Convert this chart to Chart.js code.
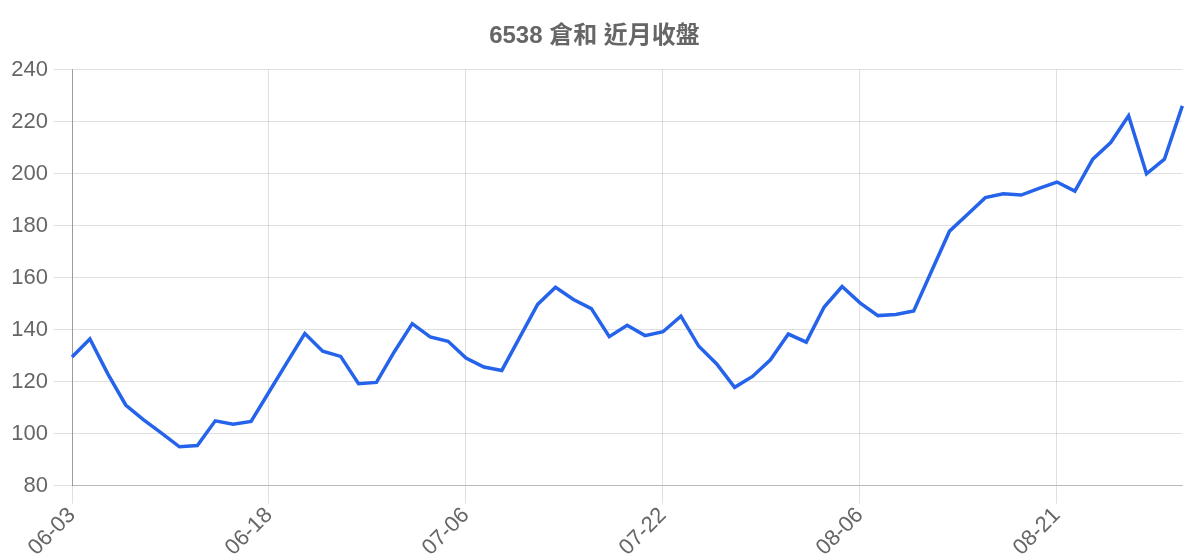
<!DOCTYPE html>
<html>
<head>
<meta charset="utf-8">
<script src="https://cdn.jsdelivr.net/npm/chart.js@4.4.1/dist/chart.umd.min.js"></script>
<style>
  html, body { margin: 0; padding: 0; background: #fff; }
  #wrap { width: 1200px; height: 560px; }
</style>
</head>
<body>
<div id="wrap"><canvas id="chart" width="1200" height="560"></canvas></div>
<script>
// Chart data
const titleText = "6538 倉和 近月收盤";

const dates = [
    "06-03", "06-04", "06-05", "06-06", "06-09", "06-10", "06-11", "06-12", "06-13", "06-16", "06-17",
    "06-18", "06-19", "06-20", "06-23", "06-24", "06-25", "06-26", "06-27", "06-30", "07-01", "07-02",
    "07-06", "07-07", "07-08", "07-09", "07-10", "07-11", "07-14", "07-15", "07-16", "07-17", "07-18",
    "07-22", "07-23", "07-24", "07-25", "07-28", "07-29", "07-30", "07-31", "08-01", "08-04", "08-05",
    "08-06", "08-07", "08-08", "08-11", "08-12", "08-13", "08-14", "08-15", "08-18", "08-19", "08-20",
    "08-21", "08-22", "08-25", "08-26", "08-27", "08-28", "08-29", "09-01"
];

const closes = [
    129.5, 136.4, 123, 111, 105.3, 100.2, 94.9, 95.4, 104.9, 103.6, 104.7,
    116, 127.3, 138.5, 131.7, 129.7, 119.2, 119.7, 131.5, 142.3, 137.2, 135.5,
    129.1, 125.6, 124.3, 137, 149.7, 156.3, 151.6, 148.1, 137.3, 141.7, 137.7,
    139.2, 145.2, 133.6, 126.8, 117.8, 122, 128.4, 138.3, 135.2, 148.7, 156.6,
    150.3, 145.4, 145.8, 147.2, 162.6, 177.9, 184.3, 190.8, 192.3, 191.8, 194.4,
    196.8, 193.3, 205.6, 212, 222.3, 200, 205.6, 226.1
];

const yTicks = [80, 100, 120, 140, 160, 180, 200, 220, 240];
const labelEvery = 11;

document.addEventListener("DOMContentLoaded", function() {
    const ctx = document.getElementById('chart').getContext('2d');
    const gridColor = 'rgba(0,0,0,0.12)';

    new Chart(ctx, {
        type: 'line',
        data: {
            labels: dates,
            datasets: [{
                label: titleText,
                data: closes,
                borderColor: '#2563eb',
                backgroundColor: '#2563eb',
                borderWidth: 3.5,
                pointRadius: 0,
                tension: 0,
                fill: false
            }]
        },
        options: {
            responsive: false,
            animation: false,
            layout: { padding: { left: 6, right: 17, top: 0, bottom: 0 } },
            plugins: {
                legend: { display: false },
                tooltip: { enabled: false },
                title: {
                    display: true,
                    text: titleText,
                    color: '#666',
                    font: { family: "'Liberation Sans', 'Noto Sans CJK TC', sans-serif", size: 24, weight: 'bold' },
                    padding: { top: 22, bottom: 19 }
                }
            },
            scales: {
                x: {
                    grid: {
                        tickLength: 18,
                        color: c => (c.index % labelEvery === 0 ? gridColor : 'transparent'),
                        tickColor: c => (c.index % labelEvery === 0 ? gridColor : 'transparent')
                    },
                    border: { color: 'rgba(0,0,0,0.18)' },
                    ticks: {
                        autoSkip: false,
                        minRotation: 45,
                        maxRotation: 45,
                        padding: -1,
                        color: '#666',
                        font: { family: "'Liberation Sans', sans-serif", size: 22 },
                        callback: function(value, index) {
                            return index % labelEvery === 0 ? dates[index] : '';
                        }
                    }
                },
                y: {
                    min: yTicks[0],
                    max: yTicks[yTicks.length - 1],
                    afterBuildTicks: axis => {
                        axis.ticks = yTicks.map(v => ({ value: v }));
                    },
                    afterFit: axis => {
                        axis.width = 66;
                    },
                    grid: { color: gridColor, tickLength: 18 },
                    border: { color: 'rgba(0,0,0,0.3)' },
                    ticks: {
                        padding: 6,
                        color: '#666',
                        font: { family: "'Liberation Sans', sans-serif", size: 22 }
                    }
                }
            }
        }
    });
});
</script>
</body>
</html>
